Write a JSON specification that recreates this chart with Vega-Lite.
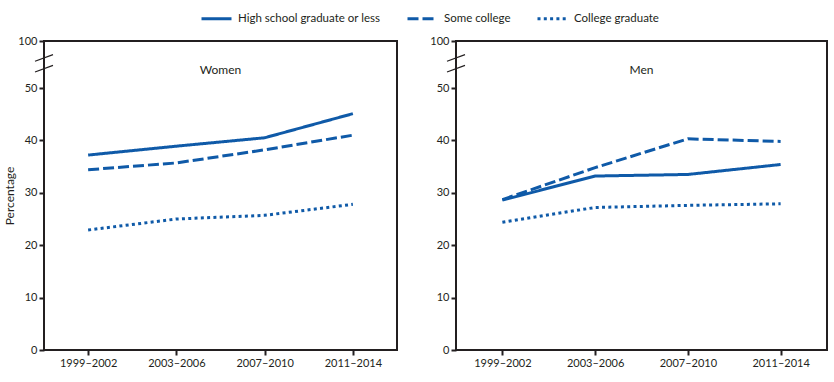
{
  "$schema": "https://vega.github.io/schema/vega-lite/v6.json",
  "padding": {"left": 2, "top": 2, "right": 5, "bottom": 5},
  "background": "white",
  "config": {
    "font": "Lato",
    "view": {"stroke": "#231f20", "strokeWidth": 2},
    "axis": {
      "domain": false, "grid": false, "tickColor": "#231f20", "tickWidth": 2, "tickSize": 5,
      "labelFont": "Lato", "labelFontSize": 11, "labelColor": "#231f20", "labelPadding": 2,
      "titleFont": "Lato", "titleFontSize": 12, "titleFontWeight": "normal", "titleColor": "#231f20"
    },
    "legend": {
      "labelFont": "Lato", "labelFontSize": 11.5, "labelColor": "#231f20",
      "symbolType": "stroke", "symbolSize": 900, "symbolStrokeWidth": 3, "symbolStrokeColor": "#0f5aa8",
      "columnPadding": 20, "labelOffset": 5
    }
  },
  "datasets": {
    "rates": [
      {"sex": "Women", "period": "1999–2002", "edu": "High school graduate or less", "pct": 37.2},
      {"sex": "Women", "period": "2003–2006", "edu": "High school graduate or less", "pct": 38.9},
      {"sex": "Women", "period": "2007–2010", "edu": "High school graduate or less", "pct": 40.5},
      {"sex": "Women", "period": "2011–2014", "edu": "High school graduate or less", "pct": 45.1},
      {"sex": "Women", "period": "1999–2002", "edu": "Some college", "pct": 34.4},
      {"sex": "Women", "period": "2003–2006", "edu": "Some college", "pct": 35.7},
      {"sex": "Women", "period": "2007–2010", "edu": "Some college", "pct": 38.2},
      {"sex": "Women", "period": "2011–2014", "edu": "Some college", "pct": 41.0},
      {"sex": "Women", "period": "1999–2002", "edu": "College graduate", "pct": 22.9},
      {"sex": "Women", "period": "2003–2006", "edu": "College graduate", "pct": 25.0},
      {"sex": "Women", "period": "2007–2010", "edu": "College graduate", "pct": 25.7},
      {"sex": "Women", "period": "2011–2014", "edu": "College graduate", "pct": 27.8},
      {"sex": "Men", "period": "1999–2002", "edu": "High school graduate or less", "pct": 28.6},
      {"sex": "Men", "period": "2003–2006", "edu": "High school graduate or less", "pct": 33.2},
      {"sex": "Men", "period": "2007–2010", "edu": "High school graduate or less", "pct": 33.5},
      {"sex": "Men", "period": "2011–2014", "edu": "High school graduate or less", "pct": 35.4},
      {"sex": "Men", "period": "1999–2002", "edu": "Some college", "pct": 28.7},
      {"sex": "Men", "period": "2003–2006", "edu": "Some college", "pct": 34.8},
      {"sex": "Men", "period": "2007–2010", "edu": "Some college", "pct": 40.3},
      {"sex": "Men", "period": "2011–2014", "edu": "Some college", "pct": 39.8},
      {"sex": "Men", "period": "1999–2002", "edu": "College graduate", "pct": 24.4},
      {"sex": "Men", "period": "2003–2006", "edu": "College graduate", "pct": 27.2},
      {"sex": "Men", "period": "2007–2010", "edu": "College graduate", "pct": 27.6},
      {"sex": "Men", "period": "2011–2014", "edu": "College graduate", "pct": 27.9}
    ],
    "breaks": [{"v": 70.5}, {"v": 82}]
  },
  "spacing": 59,
  "bounds": "flush",
  "resolve": {"scale": {"x": "independent", "y": "independent", "strokeDash": "shared"}, "legend": {"strokeDash": "shared"}},
  "hconcat": [
    {
      "width": 353, "height": 309,
      "title": {"text": "Women", "frame": "group", "anchor": "middle", "baseline": "top", "offset": -42, "fontSize": 12, "fontWeight": "normal", "color": "#231f20", "font": "Lato"},
      "layer": [
        {
          "data": {"name": "rates"},
          "transform": [{"filter": "datum.sex === 'Women'"}],
          "mark": {"type": "line", "stroke": "#0f5aa8", "strokeWidth": 3, "strokeCap": "butt"},
          "encoding": {
            "x": {"field": "period", "type": "ordinal", "scale": {"type": "point", "padding": 0.5}, "axis": {"title": null, "labelAngle": 0}},
            "y": {"field": "pct", "type": "quantitative", "scale": {"domain": [0, 50, 100], "range": [309, 47, 0]}, "axis": {"values": [0, 10, 20, 30, 40, 50, 100], "title": "Percentage", "titlePadding": 1}},
            "strokeDash": {"field": "edu", "type": "nominal", "scale": {"domain": ["High school graduate or less", "Some college", "College graduate"], "range": [[1, 0], [11, 4], [3, 3.3]]},
              "legend": {"title": null, "orient": "none", "direction": "horizontal", "legendX": 156, "legendY": -39}}
          }
        },
        {
          "data": {"name": "breaks"},
          "mark": {"type": "point", "shape": "M-1,0.37L1,-0.37", "size": 324, "stroke": "#231f20", "strokeWidth": 1.2, "filled": false, "opacity": 1},
          "encoding": {"x": {"value": 0}, "y": {"field": "v", "type": "quantitative"}}
        }
      ]
    },
    {
      "width": 371, "height": 309,
      "title": {"text": "Men", "frame": "group", "anchor": "middle", "baseline": "top", "offset": -42, "fontSize": 12, "fontWeight": "normal", "color": "#231f20", "font": "Lato"},
      "layer": [
        {
          "data": {"name": "rates"},
          "transform": [{"filter": "datum.sex === 'Men'"}],
          "mark": {"type": "line", "stroke": "#0f5aa8", "strokeWidth": 3, "strokeCap": "butt"},
          "encoding": {
            "x": {"field": "period", "type": "ordinal", "scale": {"type": "point", "padding": 0.5}, "axis": {"title": null, "labelAngle": 0}},
            "y": {"field": "pct", "type": "quantitative", "scale": {"domain": [0, 50, 100], "range": [309, 47, 0]}, "axis": {"values": [0, 10, 20, 30, 40, 50, 100], "title": null}},
            "strokeDash": {"field": "edu", "type": "nominal"}
          }
        },
        {
          "data": {"name": "breaks"},
          "mark": {"type": "point", "shape": "M-1,0.37L1,-0.37", "size": 324, "stroke": "#231f20", "strokeWidth": 1.2, "filled": false, "opacity": 1},
          "encoding": {"x": {"value": 0}, "y": {"field": "v", "type": "quantitative"}}
        }
      ]
    }
  ]
}
